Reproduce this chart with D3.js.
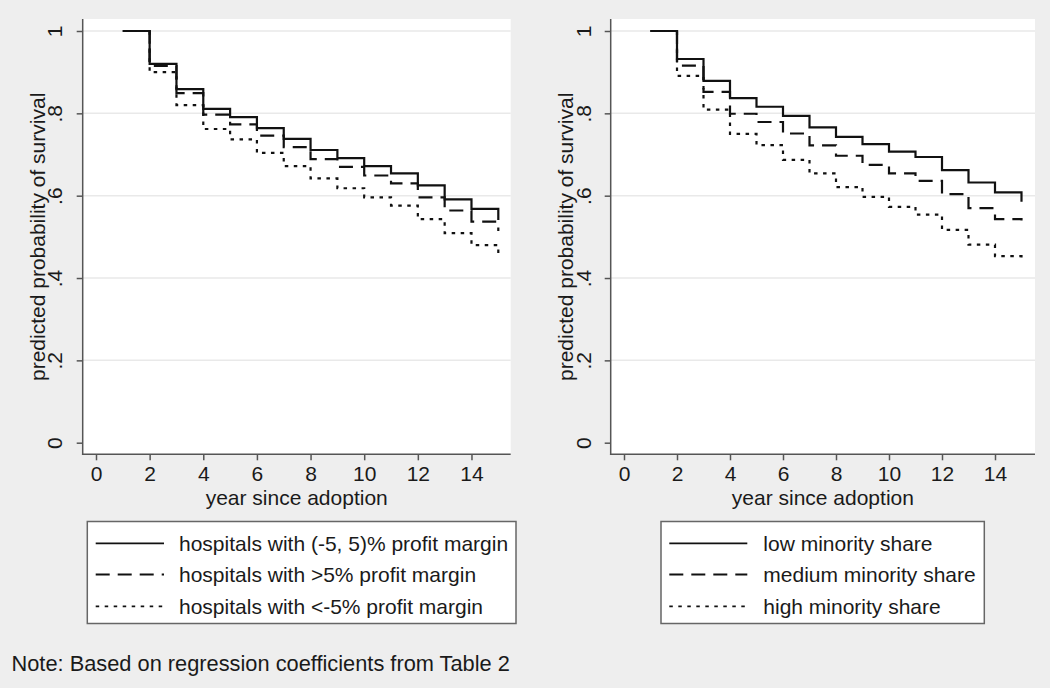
<!DOCTYPE html>
<html>
<head>
<meta charset="utf-8">
<script src="https://cdn.jsdelivr.net/npm/d3@7"></script>
<style>
  html, body { margin: 0; padding: 0; background: #eeeeee; }
  svg { display: block; }
  text { font-family: "Liberation Sans", Arial, Helvetica, sans-serif; fill: #1a1a1a; }
</style>
</head>
<body>
<svg id="chart" width="1050" height="688"></svg>
<script>
// ---- data ----
const years = [1, 2, 3, 4, 5, 6, 7, 8, 9, 10, 11, 12, 13, 14, 15];

const profitMid  = [1.000, 0.920, 0.859, 0.811, 0.791, 0.764, 0.738, 0.711, 0.691, 0.672, 0.654, 0.625, 0.591, 0.568, 0.541];
const profitHigh = [1.000, 0.915, 0.849, 0.797, 0.773, 0.746, 0.718, 0.689, 0.670, 0.649, 0.630, 0.596, 0.564, 0.537, 0.514];
const profitLow  = [1.000, 0.900, 0.820, 0.762, 0.737, 0.704, 0.672, 0.642, 0.618, 0.596, 0.576, 0.543, 0.509, 0.480, 0.456];

const minorityLow    = [1.000, 0.932, 0.879, 0.837, 0.816, 0.794, 0.766, 0.743, 0.725, 0.707, 0.694, 0.662, 0.632, 0.608, 0.585];
const minorityMedium = [1.000, 0.916, 0.852, 0.799, 0.779, 0.751, 0.722, 0.697, 0.675, 0.654, 0.636, 0.604, 0.570, 0.543, 0.540];
const minorityHigh   = [1.000, 0.891, 0.809, 0.750, 0.723, 0.687, 0.654, 0.621, 0.597, 0.573, 0.554, 0.517, 0.481, 0.453, 0.448];

const leftLabels  = ["hospitals with (-5, 5)% profit margin", "hospitals with >5% profit margin", "hospitals with <-5% profit margin"];
const rightLabels = ["low minority share", "medium minority share", "high minority share"];

const xTicks = [0, 2, 4, 6, 8, 10, 12, 14];
const yTicks = [0, 0.2, 0.4, 0.6, 0.8, 1];
const yTickLabels = ["0", ".2", ".4", ".6", ".8", "1"];
const xTitle = "year since adoption";
const yTitle = "predicted probability of survival";
const note = "Note: Based on regression coefficients from Table 2";

// ---- styles ----
const dashes = [null, "14,8", "3.5,5.5"];
const svg = d3.select("#chart");
const FS = 21;

function panel(cfg) {
  const g = svg.append("g");
  const x = d3.scaleLinear().domain([0, 15]).range([cfg.x0, cfg.x15]);
  const y = d3.scaleLinear().domain([0, 1]).range([442.7, 31]);
  const left = cfg.left, right = cfg.right, top = 19, bottom = 454.3;

  // plot area
  g.append("rect").attr("x", left).attr("y", top)
    .attr("width", right - left).attr("height", bottom - top).attr("fill", "#ffffff");

  // gridlines
  g.selectAll("line.grid").data(yTicks.filter(d => d > 0)).join("line")
    .attr("class", "grid")
    .attr("x1", left).attr("x2", right)
    .attr("y1", d => y(d)).attr("y2", d => y(d))
    .attr("stroke", "#e9e9e9").attr("stroke-width", 1.5);

  // series
  const line = d3.line().x((d, i) => x(years[i])).y(d => y(d)).curve(d3.curveStepAfter);
  cfg.series.forEach((s, k) => {
    g.append("path").datum(s).attr("d", line)
      .attr("fill", "none").attr("stroke", "#111").attr("stroke-width", 2.2)
      .attr("stroke-dasharray", dashes[k]);
  });

  // x axis
  const xa = g.append("g").attr("transform", `translate(0,${bottom})`)
    .call(d3.axisBottom(x).tickValues(xTicks).tickSize(6).tickPadding(6).tickFormat(d3.format("d")));
  xa.select(".domain").remove();
  xa.selectAll(".tick line").attr("stroke", "#555").attr("stroke-width", 1.5);
  xa.selectAll(".tick text").attr("font-size", FS).attr("fill", "#1a1a1a")
    .attr("dy", "0.71em").attr("y", 11.5);
  g.append("line").attr("x1", left - 0.75).attr("x2", right)
    .attr("y1", bottom).attr("y2", bottom).attr("stroke", "#555").attr("stroke-width", 1.5);

  // y axis
  const ya = g.append("g").attr("transform", `translate(${left},0)`)
    .call(d3.axisLeft(y).tickValues(yTicks).tickSize(6).tickFormat((d, i) => yTickLabels[i]));
  ya.select(".domain").remove();
  ya.selectAll(".tick line").attr("stroke", "#555").attr("stroke-width", 1.5);
  ya.selectAll(".tick text").attr("font-size", FS).attr("fill", "#1a1a1a")
    .attr("x", null)
    .attr("text-anchor", "middle")
    .attr("transform", `translate(${cfg.tickLabX - left},0) rotate(-90)`)
    .attr("dy", "0.35em");
  g.append("line").attr("x1", left).attr("x2", left)
    .attr("y1", top).attr("y2", bottom + 0.75).attr("stroke", "#555").attr("stroke-width", 1.5);

  // titles
  g.append("text").attr("x", (left + right) / 2).attr("y", 505)
    .attr("text-anchor", "middle").attr("font-size", FS).text(xTitle);
  g.append("text").attr("transform", `translate(${cfg.titleX},${y(0.5)}) rotate(-90)`)
    .attr("text-anchor", "middle").attr("dy", "0.35em").attr("font-size", FS).text(yTitle);

  // legend
  const L = cfg.legend;
  g.append("rect").attr("x", L.x).attr("y", 521.5).attr("width", L.w).attr("height", 102)
    .attr("fill", "#ffffff").attr("stroke", "#666").attr("stroke-width", 1.5);
  const rows = [543.3, 574.5, 606.3];
  cfg.labels.forEach((lab, k) => {
    g.append("line").attr("x1", L.s0).attr("x2", L.s1).attr("y1", rows[k]).attr("y2", rows[k])
      .attr("stroke", "#111").attr("stroke-width", 1.8).attr("stroke-dasharray", dashes[k]);
    g.append("text").attr("x", L.t).attr("y", rows[k]).attr("dy", "0.35em")
      .attr("font-size", FS).text(lab);
  });
}

panel({
  left: 82.7, right: 510.7, x0: 96, x15: 498.3,
  tickLabX: 55, titleX: 38,
  series: [profitMid, profitHigh, profitLow],
  labels: leftLabels,
  legend: { x: 87.3, w: 428.7, s0: 95.7, s1: 164, t: 179 }
});

panel({
  left: 610.7, right: 1035, x0: 624, x15: 1021.5,
  tickLabX: 584, titleX: 566,
  series: [minorityLow, minorityMedium, minorityHigh],
  labels: rightLabels,
  legend: { x: 661, w: 323.3, s0: 669.3, s1: 747.3, t: 763.3 }
});

svg.append("text").attr("x", 11.5).attr("y", 663).attr("dy", "0.35em")
  .attr("font-size", 21.8).text(note);
</script>
</body>
</html>
